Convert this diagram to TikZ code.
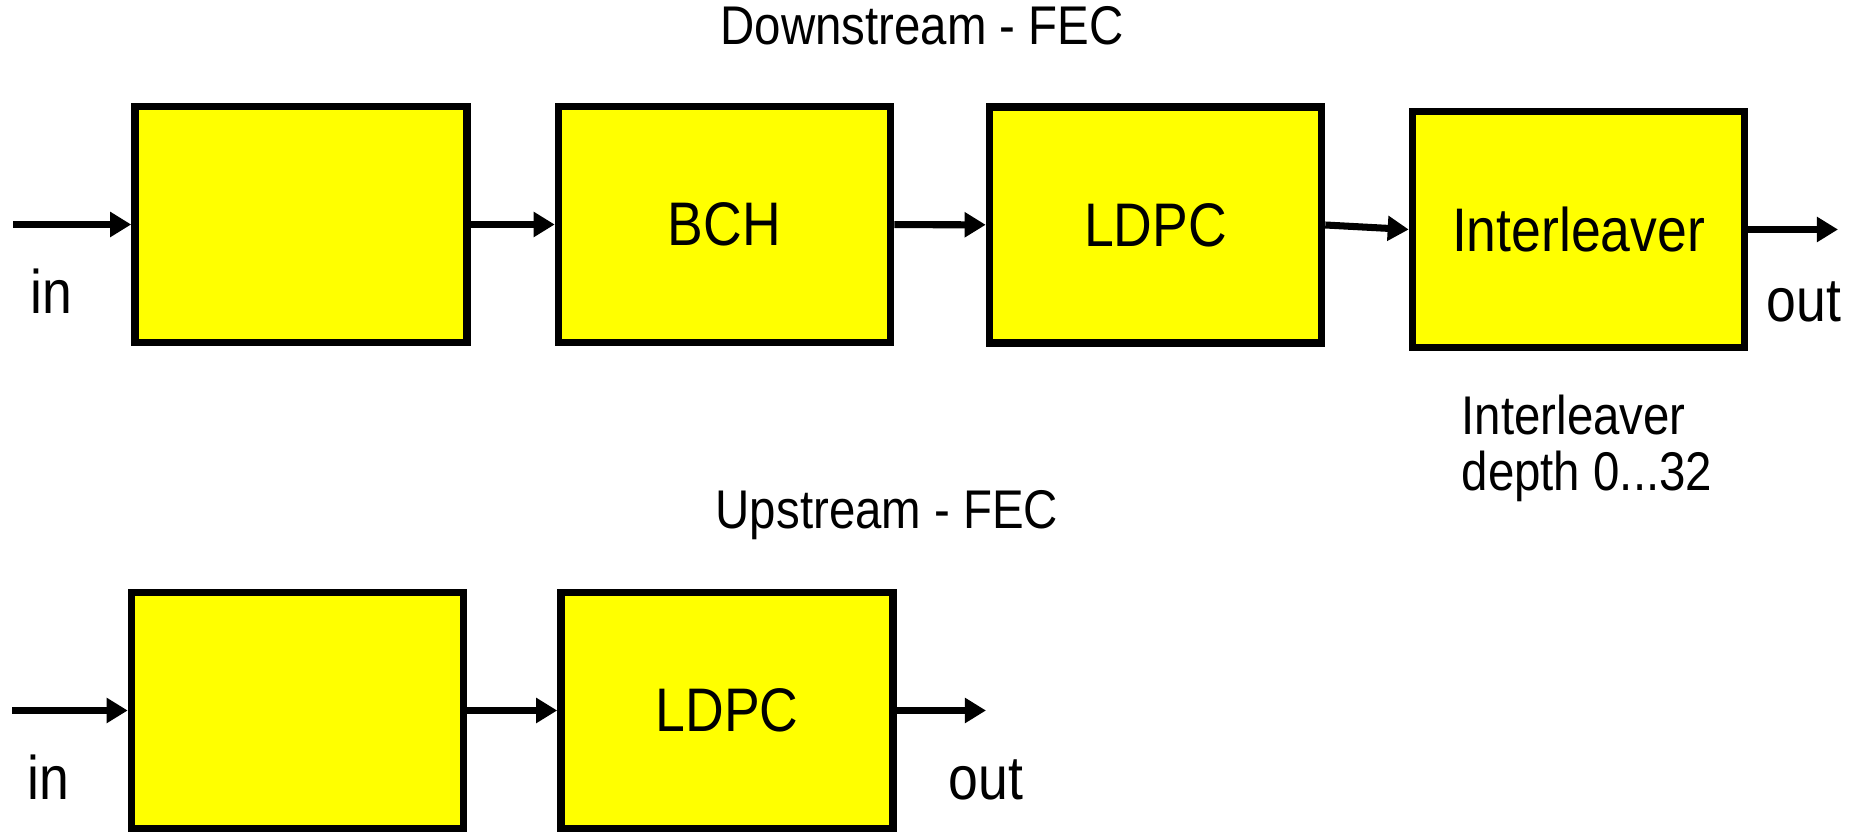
\documentclass[tikz,border=0pt]{standalone}
\usepackage{fontspec}
\setmainfont{Liberation Sans}[FakeStretch=0.87]
\usepackage{xcolor}
\usepackage{tikz}
\usetikzlibrary{arrows.meta,positioning}

\definecolor{blockyellow}{RGB}{255,255,0}

\begin{document}
\begin{tikzpicture}[
    x=0.01cm,
    y=-0.01cm,
    every node/.style={font=\fontsize{15.5}{16.2}\selectfont},
    block/.style={
        draw=black,
        line width=2.1pt,
        fill=blockyellow,
        align=center,
        font=\fontsize{17.5}{20}\selectfont,
        minimum width=3.32cm,
        minimum height=2.36cm
    },
    caption/.style={
        inner sep=0pt,
        align=left
    },
    port/.style={
        caption,
        anchor=base west,
        font=\fontsize{17.5}{20}\selectfont
    },
    flow/.style={
        -{Triangle[length=2.1mm,width=2.4mm]},
        line width=2pt
    }
]

\useasboundingbox (0,0) rectangle (1859,834);

% ==========================================================
% DOWNSTREAM CHAIN
% ==========================================================

\node[anchor=base] (dstitle) at (922,45) {Downstream - FEC};

\node[block] (dsfirst) at (301,224.5) {};
\node[block] (bch) at (724.5,224.5) {BCH};
\node[block] (ldpc) at (1155.5,225) {LDPC};
\node[block] (interleaver) at (1578.5,229.5) {Interleaver};

\coordinate (dsin) at (13,224.5);
\coordinate (dsout) at (1838,229.5);

\node[port] (dsinlabel) at (30,314) {in};
\node[port] (dsoutlabel) at (1766,322) {out};
\node[caption, anchor=base west] (depth) at (1461,491)
{Interleaver\\depth 0...32};

\draw[flow] (dsin) -- (dsfirst);
\draw[flow] (dsfirst) -- (bch);
\draw[flow] (bch) -- (ldpc);
\draw[flow] (ldpc.east) -- (interleaver.west);
\draw[flow] (interleaver) -- (dsout);

% ==========================================================
% UPSTREAM CHAIN
% ==========================================================

\node[anchor=base] (ustitle) at (887,529) {Upstream - FEC};

\node[block] (usfirst) at (297.5,710.5) {};
\node[block] (usldpc) at (727,710.5) {LDPC};

\coordinate (usin) at (12,710.5);
\coordinate (usout) at (986,710.5);

\node[port] (usinlabel) at (27,800) {in};
\node[port] (usoutlabel) at (948,800) {out};

\draw[flow] (usin) -- (usfirst);
\draw[flow] (usfirst) -- (usldpc);
\draw[flow] (usldpc) -- (usout);

\end{tikzpicture}
\end{document}
